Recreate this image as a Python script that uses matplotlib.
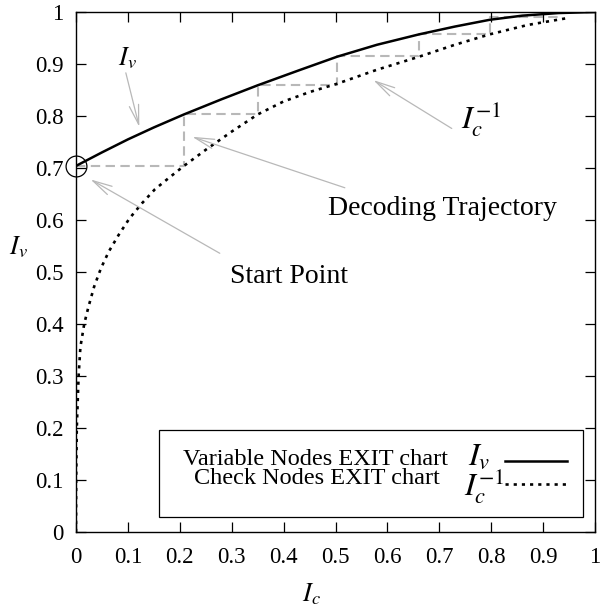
import matplotlib
matplotlib.use("Agg")
import matplotlib.pyplot as plt
from matplotlib.patches import Rectangle
from matplotlib.lines import Line2D

plt.rcParams['font.family'] = ['Liberation Serif', 'DejaVu Serif']
plt.rcParams['mathtext.fontset'] = 'stix'

# ---- data ----
iv_x = [0, 0.05, 0.1, 0.15, 0.208, 0.28, 0.35, 0.43, 0.503, 0.58, 0.661, 0.73, 0.797, 0.86, 0.93, 1.0]
iv_y = [0.704, 0.730, 0.755, 0.778, 0.803, 0.832, 0.859, 0.888, 0.914, 0.937, 0.957, 0.972, 0.985,
        0.993, 0.998, 1.0]

ic_x = [0, 0.0003, 0.0015, 0.005, 0.0085, 0.016, 0.024, 0.035, 0.048, 0.063, 0.082, 0.103, 0.127,
        0.152, 0.179, 0.208, 0.25, 0.30, 0.35, 0.40, 0.45, 0.503, 0.58, 0.661, 0.73, 0.797, 0.87, 0.945]
ic_y = [0, 0.1, 0.2, 0.3, 0.356, 0.401, 0.433, 0.472, 0.507, 0.539, 0.571, 0.603, 0.632,
        0.659, 0.681, 0.704, 0.735, 0.770, 0.803, 0.828, 0.846, 0.862, 0.889, 0.914, 0.937,
        0.957, 0.975, 0.988]

traj_x = [0, 0.208, 0.208, 0.35, 0.35, 0.503, 0.503, 0.661, 0.661, 0.797, 0.797, 0.93]
traj_y = [0.704, 0.704, 0.803, 0.803, 0.860, 0.860, 0.916, 0.916, 0.957, 0.957, 0.990, 0.990]

start_pt = (0.0, 0.704)
ticks = [0, 0.1, 0.2, 0.3, 0.4, 0.5, 0.6, 0.7, 0.8, 0.9, 1]
tick_labels = ['0', '0.1', '0.2', '0.3', '0.4', '0.5', '0.6', '0.7', '0.8', '0.9', '1']

W, H = 600, 608
fig = plt.figure(figsize=(W / 100, H / 100), dpi=100)


def fx(px):
    return px / W


def fy(py):
    return 1 - py / H


ax = fig.add_axes([fx(76), fy(532), (595 - 76) / W, (532 - 12) / H])
ax.set_xlim(0, 1)
ax.set_ylim(0, 1)

gray = '#b8b8b8'
ax.plot(traj_x, traj_y, color=gray, lw=1.5, dashes=(4.5, 2.6), zorder=1)
ax.plot(iv_x, iv_y, color='black', lw=1.8, zorder=3)
ax.plot(ic_x, ic_y, color='black', lw=1.9, dashes=(1.2, 1.9), zorder=3)
ax.plot([start_pt[0]], [start_pt[1]], marker='o', ms=15, mfc='none', mec='black', mew=0.9,
        clip_on=False, zorder=4)

ax.set_xticks(ticks)
ax.set_xticklabels(tick_labels)
ax.set_yticks(ticks)
ax.set_yticklabels(tick_labels)
ax.tick_params(direction='in', length=7.5, width=0.9, top=True, right=True,
               labelsize=16.5, pad=9)
ax.tick_params(axis='x', pad=11)
for s in ax.spines.values():
    s.set_linewidth(1.0)

arrow_kw = dict(arrowstyle='->,head_length=0.7,head_width=0.17', color='#b8b8b8', lw=0.9,
                mutation_scale=20, shrinkA=0, shrinkB=0)

# I_v annotation
ax.text(0.080, 0.898, r'$I_v$', fontsize=19, ha='left', va='baseline')
ax.annotate('', xy=(0.122, 0.779), xytext=(0.096, 0.883), arrowprops=arrow_kw)

# I_c^-1 annotation
ax.text(0.742, 0.776, r'$I_c^{-\mathit{1}}$', fontsize=23, ha='left', va='baseline')
ax.annotate('', xy=(0.573, 0.869), xytext=(0.724, 0.776), arrowprops=arrow_kw)

# Decoding trajectory
ax.text(0.707, 0.610, 'Decoding Trajectory', fontsize=20, ha='center', va='baseline')
ax.annotate('', xy=(0.224, 0.760), xytext=(0.518, 0.662), arrowprops=arrow_kw)

# Start point
ax.text(0.410, 0.479, 'Start Point', fontsize=20, ha='center', va='baseline')
ax.annotate('', xy=(0.028, 0.678), xytext=(0.277, 0.536), arrowprops=arrow_kw)

# axis labels
fig.text(fx(311), fy(594), r'$I_c$', fontsize=19, ha='center', va='center')
fig.text(fx(18), fy(247), r'$I_v$', fontsize=19, ha='center', va='center')

# legend (manual)
fig.patches.append(Rectangle((fx(159), fy(517)), (583 - 159) / W, (517 - 430) / H,
                             transform=fig.transFigure, fill=False, ec='black', lw=0.9))
fig.text(fx(448), fy(465), 'Variable Nodes EXIT chart', fontsize=17.5, ha='right', va='baseline')
fig.text(fx(440), fy(484), 'Check Nodes EXIT chart', fontsize=17.5, ha='right', va='baseline')
fig.text(fx(468), fy(465), r'$I_v$', fontsize=23, ha='left', va='baseline')
fig.text(fx(464), fy(496), r'$I_c^{-\mathit{1}}$', fontsize=23, ha='left', va='baseline')
fig.lines.append(Line2D([fx(505), fx(567)], [fy(461), fy(461)], transform=fig.transFigure,
                        color='black', lw=1.8))
fig.lines.append(Line2D([fx(505), fx(567)], [fy(484), fy(484)], transform=fig.transFigure,
                        color='black', lw=1.9, dashes=(1.2, 1.9)))

fig.savefig('out.png', dpi=100)
